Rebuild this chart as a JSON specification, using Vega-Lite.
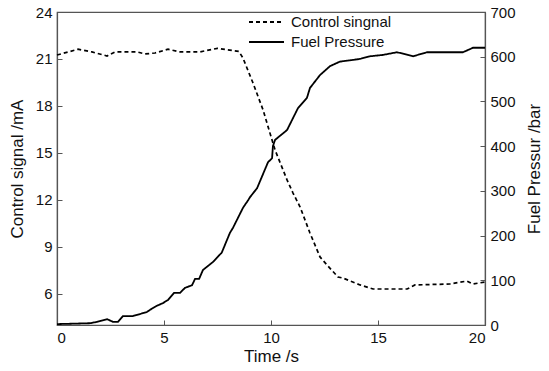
{
  "$schema": "https://vega.github.io/schema/vega-lite/v6.json",
  "width": 428,
  "height": 313,
  "autosize": {"type": "none"},
  "padding": {"left": 57, "top": 12, "right": 64, "bottom": 46},
  "background": "white",
  "config": {
    "font": "Liberation Sans",
    "view": {"stroke": "#555", "strokeWidth": 1.2},
    "axis": {
      "grid": false,
      "domainColor": "#555",
      "domainWidth": 1.2,
      "tickColor": "#555",
      "tickSize": -5,
      "labelPadding": 10,
      "labelFontSize": 15,
      "labelColor": "#111",
      "titleFontSize": 17,
      "titleFontWeight": "normal",
      "titleColor": "#111"
    },
    "legend": {
      "orient": "none",
      "legendX": 191,
      "legendY": 1,
      "title": null,
      "symbolType": "stroke",
      "symbolSize": 1225,
      "symbolStrokeWidth": 1.8,
      "symbolStrokeColor": "black",
      "labelFontSize": 15,
      "labelColor": "#111",
      "labelOffset": 6,
      "clipHeight": 18,
      "rowPadding": 2
    }
  },
  "data": {
    "values": [
      {"t": 0, "v": 21.25, "series": "Control singnal"},
      {"t": 0.98, "v": 21.62, "series": "Control singnal"},
      {"t": 1.63, "v": 21.45, "series": "Control singnal"},
      {"t": 2.34, "v": 21.19, "series": "Control singnal"},
      {"t": 2.71, "v": 21.45, "series": "Control singnal"},
      {"t": 3.74, "v": 21.45, "series": "Control singnal"},
      {"t": 4.11, "v": 21.32, "series": "Control singnal"},
      {"t": 4.58, "v": 21.38, "series": "Control singnal"},
      {"t": 5.19, "v": 21.62, "series": "Control singnal"},
      {"t": 5.75, "v": 21.45, "series": "Control singnal"},
      {"t": 6.68, "v": 21.45, "series": "Control singnal"},
      {"t": 7.5, "v": 21.68, "series": "Control singnal"},
      {"t": 8.5, "v": 21.48, "series": "Control singnal"},
      {"t": 8.69, "v": 21.06, "series": "Control singnal"},
      {"t": 9.16, "v": 19.46, "series": "Control singnal"},
      {"t": 9.63, "v": 17.74, "series": "Control singnal"},
      {"t": 10.09, "v": 15.63, "series": "Control singnal"},
      {"t": 10.19, "v": 15.18, "series": "Control singnal"},
      {"t": 10.75, "v": 13.27, "series": "Control singnal"},
      {"t": 11.03, "v": 12.43, "series": "Control singnal"},
      {"t": 11.36, "v": 11.54, "series": "Control singnal"},
      {"t": 11.82, "v": 9.88, "series": "Control singnal"},
      {"t": 12.29, "v": 8.35, "series": "Control singnal"},
      {"t": 12.62, "v": 7.83, "series": "Control singnal"},
      {"t": 13.13, "v": 7.07, "series": "Control singnal"},
      {"t": 13.36, "v": 7.0, "series": "Control singnal"},
      {"t": 14.16, "v": 6.56, "series": "Control singnal"},
      {"t": 14.77, "v": 6.3, "series": "Control singnal"},
      {"t": 16.36, "v": 6.3, "series": "Control singnal"},
      {"t": 16.73, "v": 6.56, "series": "Control singnal"},
      {"t": 18.36, "v": 6.62, "series": "Control singnal"},
      {"t": 19.16, "v": 6.81, "series": "Control singnal"},
      {"t": 19.44, "v": 6.62, "series": "Control singnal"},
      {"t": 20, "v": 6.75, "series": "Control singnal"},
      {"t": 0, "v": 2, "series": "Fuel Pressure"},
      {"t": 1.54, "v": 4, "series": "Fuel Pressure"},
      {"t": 1.87, "v": 7, "series": "Fuel Pressure"},
      {"t": 2.34, "v": 13, "series": "Fuel Pressure"},
      {"t": 2.62, "v": 7, "series": "Fuel Pressure"},
      {"t": 2.85, "v": 7, "series": "Fuel Pressure"},
      {"t": 3.08, "v": 20, "series": "Fuel Pressure"},
      {"t": 3.55, "v": 20, "series": "Fuel Pressure"},
      {"t": 4.2, "v": 29, "series": "Fuel Pressure"},
      {"t": 4.35, "v": 34, "series": "Fuel Pressure"},
      {"t": 4.67, "v": 43, "series": "Fuel Pressure"},
      {"t": 4.95, "v": 49, "series": "Fuel Pressure"},
      {"t": 5.19, "v": 56, "series": "Fuel Pressure"},
      {"t": 5.47, "v": 72, "series": "Fuel Pressure"},
      {"t": 5.75, "v": 72, "series": "Fuel Pressure"},
      {"t": 5.98, "v": 83, "series": "Fuel Pressure"},
      {"t": 6.31, "v": 89, "series": "Fuel Pressure"},
      {"t": 6.45, "v": 103, "series": "Fuel Pressure"},
      {"t": 6.64, "v": 103, "series": "Fuel Pressure"},
      {"t": 6.82, "v": 123, "series": "Fuel Pressure"},
      {"t": 7.29, "v": 141, "series": "Fuel Pressure"},
      {"t": 7.7, "v": 162, "series": "Fuel Pressure"},
      {"t": 8.08, "v": 206, "series": "Fuel Pressure"},
      {"t": 8.22, "v": 217, "series": "Fuel Pressure"},
      {"t": 8.69, "v": 262, "series": "Fuel Pressure"},
      {"t": 8.93, "v": 279, "series": "Fuel Pressure"},
      {"t": 9.02, "v": 286, "series": "Fuel Pressure"},
      {"t": 9.35, "v": 306, "series": "Fuel Pressure"},
      {"t": 9.86, "v": 364, "series": "Fuel Pressure"},
      {"t": 10.05, "v": 373, "series": "Fuel Pressure"},
      {"t": 10.09, "v": 400, "series": "Fuel Pressure"},
      {"t": 10.19, "v": 414, "series": "Fuel Pressure"},
      {"t": 10.75, "v": 436, "series": "Fuel Pressure"},
      {"t": 11.26, "v": 485, "series": "Fuel Pressure"},
      {"t": 11.68, "v": 508, "series": "Fuel Pressure"},
      {"t": 11.82, "v": 530, "series": "Fuel Pressure"},
      {"t": 12.29, "v": 559, "series": "Fuel Pressure"},
      {"t": 12.76, "v": 579, "series": "Fuel Pressure"},
      {"t": 13.22, "v": 589, "series": "Fuel Pressure"},
      {"t": 13.69, "v": 592, "series": "Fuel Pressure"},
      {"t": 14.16, "v": 595, "series": "Fuel Pressure"},
      {"t": 14.63, "v": 601, "series": "Fuel Pressure"},
      {"t": 15.23, "v": 604, "series": "Fuel Pressure"},
      {"t": 15.89, "v": 610, "series": "Fuel Pressure"},
      {"t": 16.64, "v": 601, "series": "Fuel Pressure"},
      {"t": 17.29, "v": 610, "series": "Fuel Pressure"},
      {"t": 18.97, "v": 610, "series": "Fuel Pressure"},
      {"t": 19.44, "v": 620, "series": "Fuel Pressure"},
      {"t": 20, "v": 620, "series": "Fuel Pressure"}
    ]
  },
  "encoding": {
    "x": {
      "field": "t",
      "type": "quantitative",
      "scale": {"domain": [0, 20], "nice": false},
      "axis": {"values": [0, 5, 10, 15, 20], "title": "Time /s", "titlePadding": 3}
    },
    "strokeDash": {
      "field": "series",
      "type": "nominal",
      "scale": {"domain": ["Control singnal", "Fuel Pressure"], "range": [[4, 3], [1, 0]]}
    }
  },
  "layer": [
    {
      "transform": [{"filter": "datum.series === 'Control singnal'"}],
      "mark": {"type": "line", "color": "black", "strokeWidth": 1.7},
      "encoding": {
        "y": {
          "field": "v",
          "type": "quantitative",
          "scale": {"domain": [4, 24], "nice": false, "zero": false},
          "axis": {"orient": "left", "values": [6, 9, 12, 15, 18, 21, 24], "title": "Control signal /mA", "titlePadding": 9}
        }
      }
    },
    {
      "transform": [{"filter": "datum.series === 'Fuel Pressure'"}],
      "mark": {"type": "line", "color": "black", "strokeWidth": 1.8},
      "encoding": {
        "y": {
          "field": "v",
          "type": "quantitative",
          "scale": {"domain": [0, 700], "nice": false},
          "axis": {"orient": "right", "values": [0, 100, 200, 300, 400, 500, 600, 700], "title": "Fuel Pressur /bar", "titleAngle": 270, "titlePadding": 28}
        }
      }
    }
  ],
  "resolve": {"scale": {"y": "independent"}}
}
